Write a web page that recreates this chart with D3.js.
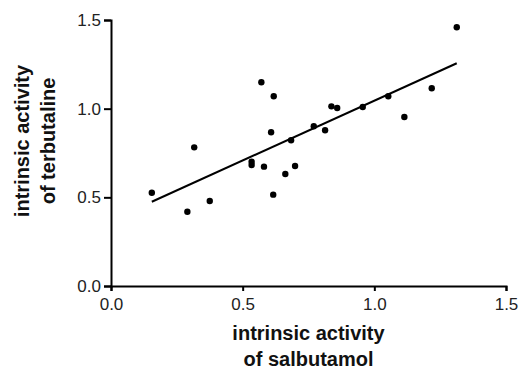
<!DOCTYPE html>
<html>
<head>
<meta charset="utf-8">
<script src="https://cdn.jsdelivr.net/npm/d3@7"></script>
<style>
  body { margin: 0; background: #fff; }
  svg { display: block; }
</style>
</head>
<body>
<svg width="521" height="373"></svg>
<script>
// salbutamol (x) vs terbutaline (y) intrinsic activity
const salbutamol = [0.155, 0.290, 0.375, 0.316, 0.534, 0.534, 0.581, 0.571, 0.618, 0.608, 0.616, 0.662,
  0.699, 0.684, 0.770, 0.813, 0.837, 0.859, 0.956, 1.053, 1.114, 1.218, 1.313];
const terbutaline = [0.526, 0.419, 0.479, 0.782, 0.701, 0.682, 0.673, 1.149, 1.070, 0.867, 0.515, 0.632,
  0.677, 0.822, 0.901, 0.878, 1.013, 1.004, 1.009, 1.070, 0.953, 1.115, 1.459];
// regression line end points
const fitX = [0.155, 1.313];
const fitY = [0.475, 1.256];
const ticks = [0, 0.5, 1.0, 1.5];

const titleFont = '"Liberation Sans", Arial, sans-serif';
const svg = d3.select('svg');
const m = { top: 20, right: 15, bottom: 87, left: 111 };
const width = +svg.attr('width') - m.left - m.right;
const height = +svg.attr('height') - m.top - m.bottom;
const g = svg.append('g').attr('transform', `translate(${m.left}, ${m.top})`);

const x = d3.scaleLinear().domain([0, 1.5]).range([0, width]);
const y = d3.scaleLinear().domain([0, 1.5]).range([height, 0]);

const xAxis = g.append('g')
  .attr('transform', `translate(0, ${height})`)
  .call(d3.axisBottom(x).tickValues(ticks).tickFormat(d3.format('.1f')).tickSize(5).tickPadding(7));

const yAxis = g.append('g')
  .call(d3.axisLeft(y).tickValues(ticks).tickFormat(d3.format('.1f')).tickSize(7).tickPadding(3));

[xAxis, yAxis].forEach(a => {
  a.select('.domain').attr('stroke', '#000').attr('stroke-width', 2);
  a.selectAll('.tick line').attr('stroke', '#000').attr('stroke-width', 2);
  a.selectAll('.tick text').attr('font-size', 17).attr('fill', '#222');
});

g.append('path')
  .datum(fitX.map((v, i) => [v, fitY[i]]))
  .attr('fill', 'none')
  .attr('stroke', '#000')
  .attr('stroke-width', 2)
  .attr('d', d3.line().x(d => x(d[0])).y(d => y(d[1])));

g.selectAll('circle')
  .data(salbutamol.map((v, i) => [v, terbutaline[i]]))
  .join('circle')
  .attr('cx', d => x(d[0]))
  .attr('cy', d => y(d[1]))
  .attr('r', 3.2)
  .attr('fill', '#000');

const xt = svg.append('text')
  .attr('text-anchor', 'middle')
  .attr('font-family', titleFont)
  .attr('font-size', 20)
  .attr('font-weight', 'bold')
  .attr('fill', '#111');
xt.append('tspan').attr('x', m.left + width / 2).attr('y', 340).text('intrinsic activity');
xt.append('tspan').attr('x', m.left + width / 2).attr('y', 366).text('of salbutamol');

const yt = svg.append('text')
  .attr('text-anchor', 'middle')
  .attr('font-family', titleFont)
  .attr('font-size', 20)
  .attr('font-weight', 'bold')
  .attr('fill', '#111')
  .attr('transform', 'translate(0, 141) rotate(-90)');
yt.append('tspan').attr('x', 0).attr('y', 29).text('intrinsic activity');
yt.append('tspan').attr('x', 0).attr('y', 55).text('of terbutaline');
</script>
</body>
</html>
